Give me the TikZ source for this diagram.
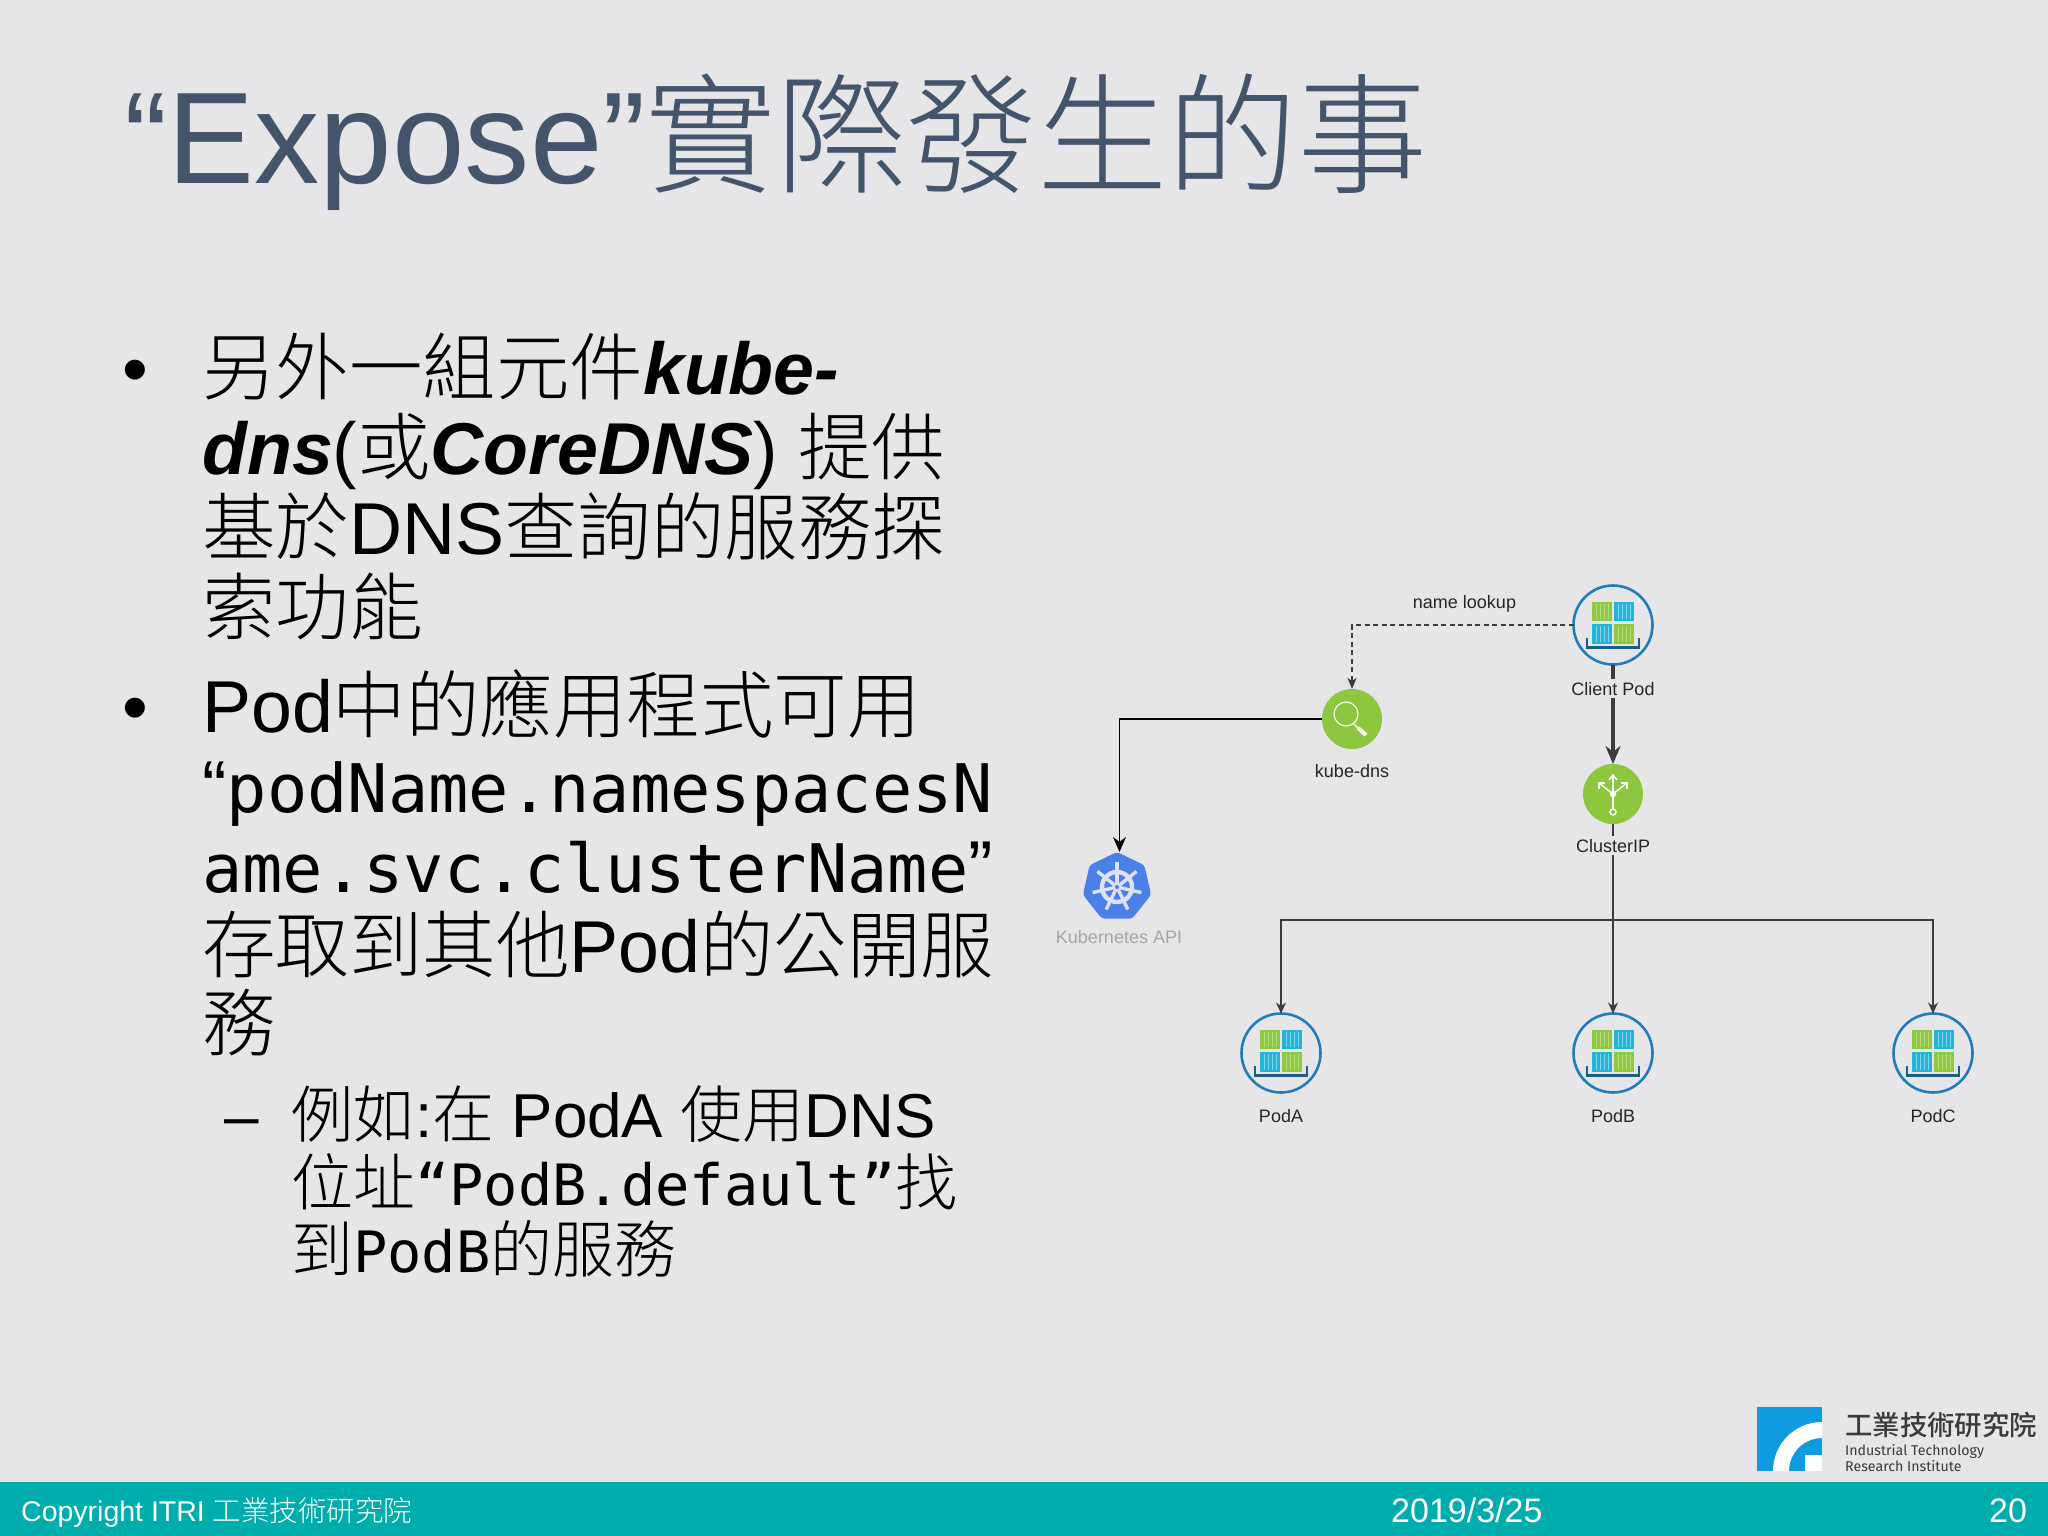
\documentclass[tikz,border=0pt]{standalone}
\usepackage{fontspec}
\usetikzlibrary{arrows.meta,shapes.geometric,calc}
\setmainfont{Liberation Sans}
\newfontfamily\cjkfont{Noto Sans CJK TC Light}
\newfontfamily\cjkmed{Noto Sans CJK TC Medium}
\newfontfamily\codefont{DejaVu Sans Mono}
\newfontfamily\logofont{Fira Sans}
\newcommand\cj[1]{{\cjkfont #1}}
\newcommand\bi[1]{{\bfseries\itshape #1}}
\newcommand\monoa[1]{{\fontsize{67}{67}\selectfont\codefont #1}}
\newcommand\monob[1]{{\fontsize{57}{57}\selectfont\codefont #1}}
\newcommand\crate[4]{% x y fill stripe
  \fill[#3] (#1,#2) rectangle ++(20,19.5);
  \foreach \dx in {4,8,12,16} {\draw[#4,line width=1pt] ($(#1,#2)+(\dx,2)$) -- ++(0,15.5);}
}
\definecolor{slidebg}{HTML}{E6E6E8}
\definecolor{barteal}{HTML}{00ADAD}
\definecolor{titleblue}{HTML}{44546A}
\definecolor{podblue}{HTML}{1F7DB8}
\definecolor{traydark}{HTML}{1B5E85}
\definecolor{boxgreen}{HTML}{8FC93F}
\definecolor{boxcyan}{HTML}{22B5DC}
\definecolor{stripegreen}{HTML}{B5DC80}
\definecolor{stripecyan}{HTML}{7FD8EE}
\definecolor{dotgreen}{HTML}{8DC63F}
\definecolor{kubeblue}{HTML}{4A80E8}
\definecolor{wheelwhite}{HTML}{DCE2F2}
\definecolor{logoblue}{HTML}{0F9BE0}
\definecolor{logotext}{HTML}{3A3A3A}
\definecolor{darkline}{HTML}{3C3C3C}
\tikzset{
  x=1pt,y=-1pt,
  titletext/.style={anchor=base west,inner sep=0pt,text=titleblue,font=\fontsize{130.4}{131}\selectfont},
  bodyline/.style={anchor=base west,inner sep=0pt,text=black,font=\fontsize{73.5}{74}\selectfont},
  subline/.style={anchor=base west,inner sep=0pt,text=black,font=\fontsize{62}{62}\selectfont},
  diaglabel/.style={anchor=base,inner xsep=1pt,inner ysep=3pt,fill=slidebg,text=black!85,font=\fontsize{18}{18}\selectfont},
  footertext/.style={anchor=base west,inner sep=0pt,text=white},
  podcircle/.style={circle,draw=podblue,line width=2.6pt,minimum size=79pt,inner sep=0pt,outer sep=0pt},
  dotcircle/.style={circle,fill=dotgreen,minimum size=60pt,inner sep=0pt,outer sep=0pt},
  thinarrow/.style={darkline,line width=1.3pt,-{Stealth[length=11pt,width=10pt]}},
  midarrow/.style={black,line width=1.7pt,-{Stealth[length=15pt,width=13pt]}},
  thickarrow/.style={darkline,line width=3.2pt,-{Stealth[length=18pt,width=15pt]}},
  dasharrow/.style={darkline,line width=1.2pt,dash pattern=on 5pt off 3.5pt,-{Stealth[length=11pt,width=9pt,inset=3pt]}},
  podicon/.pic={
    \crate{-21}{-23.5}{boxgreen}{stripegreen}
    \crate{1.3}{-23.5}{boxcyan}{stripecyan}
    \crate{-21}{-1}{boxcyan}{stripecyan}
    \crate{1.3}{-1}{boxgreen}{stripegreen}
    \draw[traydark,line width=2.4pt] (-26,13) -- (-26,22.5) -- (26,22.5) -- (26,13);
  },
}
\begin{document}
\begin{tikzpicture}
\useasboundingbox (0,0) rectangle (2048,1536);
\fill[slidebg] (0,0) rectangle (2048,1536);
\fill[barteal] (0,1482) rectangle (2048,1536);

% title
\node[titletext] (title) at (124,183) {“Expose”\cj{實際發生的事}};

% body text
\node[bodyline] (bulleta) at (122,394) {•};
\node[bodyline] (la) at (202,394) {\cj{另外一組元件}\bi{kube-}};
\node[bodyline] (lb) at (202,474) {\bi{dns}(\cj{或}\bi{CoreDNS}) \cj{提供}};
\node[bodyline] (lc) at (202,554) {\cj{基於}DNS\cj{查詢的服務探}};
\node[bodyline] (ld) at (202,634) {\cj{索功能}};
\node[bodyline] (bulletb) at (122,732) {•};
\node[bodyline] (le) at (202,732) {Pod\cj{中的應用程式可用}};
\node[bodyline] (lf) at (202,812) {“\monoa{podName.namespacesN}};
\node[bodyline] (lg) at (202,892) {\monoa{ame.svc.clusterName}”};
\node[bodyline] (lh) at (202,972) {\cj{存取到其他}Pod\cj{的公開服}};
\node[bodyline] (li) at (202,1050) {\cj{務}};
\node[subline] (dash) at (224,1137) {–};
\node[subline] (sa) at (291,1137) {\cj{例如}:\cj{在} PodA \cj{使用}DNS};
\node[subline] (sb) at (291,1205) {\cj{位址}\monob{“PodB.default”}\cj{找}};
\node[subline] (sc) at (291,1272) {\cj{到}\monob{PodB}\cj{的服務}};

% diagram nodes
\node[podcircle] (client) at (1613,625) {};
\node[dotcircle] (kubedns) at (1352,719) {};
\node[dotcircle] (clusterip) at (1613,794) {};
\node[regular polygon,regular polygon sides=7,fill=kubeblue,minimum size=70pt,inner sep=0pt,outer sep=0pt,rounded corners=3pt] (k8s) at (1117,887) {};
\node[podcircle] (poda) at (1281,1053) {};
\node[podcircle] (podb) at (1613,1053) {};
\node[podcircle] (podc) at (1933,1053) {};
\coordinate (bus) at (1613,920);

% connectors
\draw[dasharrow] (client.west) -| (kubedns.north);
\draw[midarrow] (kubedns.west) -| ([xshift=2.5pt]k8s.north);
\draw[thickarrow] (client.south) -- (clusterip.north);
\draw[thinarrow] (clusterip.south) -- (podb.north);
\draw[thinarrow] (bus) -| (poda.north);
\draw[thinarrow] (bus) -| (podc.north);

% icons
\pic at (client) {podicon};
\pic at (poda) {podicon};
\pic at (podb) {podicon};
\pic at (podc) {podicon};

% magnifier
\draw[white,line width=1.1pt] ($(kubedns)+(-6,-5)$) circle (12);
\draw[white,line width=1.4pt] ($(kubedns)+(2,5)$) -- ($(kubedns)+(6,9)$);
\draw[white,line width=4pt] ($(kubedns)+(6,9)$) -- ($(kubedns)+(14,16)$);

% service icon
\draw[white,line width=1.5pt] ($(clusterip)+(0,15)$) -- ($(clusterip)+(0,-19)$);
\draw[white,line width=1.5pt] ($(clusterip)+(-4,-14)$) -- ($(clusterip)+(0,-19)$) -- ($(clusterip)+(4,-14)$);
\draw[white,line width=1.5pt] ($(clusterip)+(0,0)$) -- ($(clusterip)+(-14,-11)$);
\draw[white,line width=1.5pt] ($(clusterip)+(-14,-5)$) -- ($(clusterip)+(-14,-11)$) -- ($(clusterip)+(-8,-11)$);
\draw[white,line width=1.5pt] ($(clusterip)+(0,0)$) -- ($(clusterip)+(14,-11)$);
\draw[white,line width=1.5pt] ($(clusterip)+(14,-5)$) -- ($(clusterip)+(14,-11)$) -- ($(clusterip)+(8,-11)$);
\fill[white] (clusterip) circle (3.2);
\draw[white,line width=1.4pt] ($(clusterip)+(0,18)$) circle (3);

% helm wheel
\draw[wheelwhite,line width=4.4pt] (k8s) circle (15);
\foreach \a in {-90,-38.6,12.9,64.3,115.7,167.1,218.6} {
  \draw[wheelwhite,line width=3.4pt] ($(k8s)+(\a:4)$) -- ($(k8s)+(\a:25)$);
}
\fill[wheelwhite] (k8s) circle (4.5);
\fill[kubeblue] (k8s) circle (2);

% diagram labels
\node[diaglabel] (clientlabel) at (1613,695) {Client Pod};
\node[diaglabel] (dnslabel) at (1352,777) {kube-dns};
\node[diaglabel] (iplabel) at (1613,852) {ClusterIP};
\node[diaglabel] (lookuplabel) at (1464.5,608) {name lookup};
\node[diaglabel,text=black!35] (apilabel) at (1119,943) {Kubernetes API};
\node[diaglabel] (alabel) at (1281,1122.5) {PodA};
\node[diaglabel] (blabel) at (1613,1122.5) {PodB};
\node[diaglabel] (clabel) at (1933,1122.5) {PodC};

% logo
\fill[logoblue] (1757,1407) rectangle (1822,1471);
\fill[white] (1773,1471) arc[start angle=180,end angle=270,radius=49] -- (1822,1438) arc[start angle=270,end angle=180,radius=33] -- cycle;
\fill[white] (1805,1455) rectangle (1822,1471);
\node[anchor=base west,inner sep=0pt,text=logotext,font=\fontsize{27.4}{27.4}\selectfont] (logoa) at (1845,1435) {{\cjkmed 工業技術研究院}};
\node[anchor=base west,inner sep=0pt,text=logotext,font=\fontsize{14.2}{15}\selectfont\logofont] (logob) at (1845,1455) {Industrial Technology};
\node[anchor=base west,inner sep=0pt,text=logotext,font=\fontsize{14.2}{15}\selectfont\logofont] (logoc) at (1845,1471) {Research Institute};

% footer
\node[footertext,font=\fontsize{28.5}{29}\selectfont] (copy) at (21,1521) {Copyright ITRI \cj{工業技術研究院}};
\node[footertext,font=\fontsize{34}{34}\selectfont] (date) at (1391,1522) {2019/3/25};
\node[footertext,font=\fontsize{34}{34}\selectfont] (page) at (1989,1522) {20};
\end{tikzpicture}
\end{document}
